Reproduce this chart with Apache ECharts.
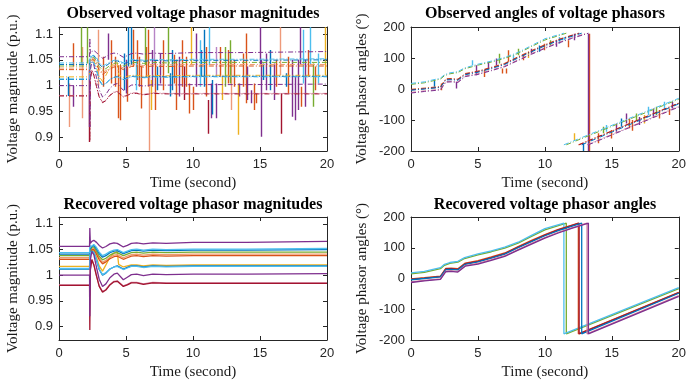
<!DOCTYPE html>
<html>
<head>
<meta charset="utf-8">
<script src="https://cdn.jsdelivr.net/npm/echarts@6/dist/echarts.min.js"></script>
<style>html,body{margin:0;padding:0;background:#fff}#c{width:689px;height:381px}</style>
</head>
<body>
<div id="c"></div>
<script>
// ---------- DATA ----------
const titles = ['Observed voltage phasor magnitudes', 'Observed angles of voltage phasors',
                'Recovered voltage phasor magnitudes', 'Recovered voltage phasor angles'];
const xTicks = [0, 5, 10, 15, 20];
const magTicks = [0.9, 0.95, 1, 1.05, 1.1];
const angTicks = [-200, -100, 0, 100, 200];

// time grid for magnitudes (s)
const TM = [0, 2.28, 2.3, 2.34, 2.45, 2.6, 2.8, 3.0, 3.25, 3.5, 3.8, 4.1, 4.35, 4.45, 4.8, 5.1, 5.4, 5.8, 6.3, 7.0, 8.0, 10, 14, 20];
const magPurpleHigh = [1.056,1.056,1.092,1.062,1.066,1.068,1.064,1.058,1.053,1.056,1.061,1.063,1.062,1.060,1.055,1.058,1.062,1.063,1.061,1.063,1.062,1.064,1.064,1.066];
const magLightBlueHigh = [1.044,1.044,1.060,1.055,1.058,1.060,1.054,1.045,1.038,1.041,1.046,1.049,1.050,1.048,1.044,1.047,1.050,1.051,1.049,1.051,1.050,1.051,1.051,1.052];
const magBlueHigh = [1.041,1.041,1.050,1.052,1.056,1.058,1.051,1.042,1.035,1.038,1.044,1.047,1.048,1.046,1.042,1.045,1.048,1.049,1.047,1.049,1.048,1.049,1.049,1.050];
const magGreen = [1.038,1.038,1.048,1.050,1.054,1.055,1.047,1.037,1.030,1.033,1.039,1.043,1.044,1.042,1.038,1.041,1.044,1.045,1.043,1.045,1.044,1.045,1.045,1.045];
const magPaleOrange = [1.034,1.034,1.046,1.049,1.052,1.052,1.044,1.033,1.025,1.029,1.035,1.039,1.040,1.038,1.034,1.037,1.040,1.041,1.039,1.041,1.040,1.041,1.041,1.041];
const magOrange = [1.031,1.031,1.045,1.048,1.050,1.050,1.041,1.030,1.022,1.026,1.032,1.036,1.037,1.035,1.031,1.034,1.037,1.038,1.036,1.038,1.037,1.038,1.038,1.038];
const magYellow = [1.017,1.017,1.040,1.050,1.052,1.048,1.035,1.018,1.008,1.020,1.035,1.043,1.046,1.021,1.016,1.018,1.020,1.020,1.018,1.020,1.019,1.020,1.020,1.020];
const magLightBlueLow = [1.013,1.013,1.035,1.045,1.048,1.045,1.030,1.012,1.001,1.005,1.012,1.016,1.017,1.015,1.011,1.014,1.017,1.017,1.015,1.017,1.016,1.017,1.017,1.017];
const magBlueLow = [1.012,1.012,1.030,1.043,1.047,1.044,1.029,1.011,1.000,1.004,1.012,1.016,1.018,1.016,1.012,1.015,1.018,1.018,1.016,1.018,1.017,1.018,1.018,1.018];
const magPurpleLow = [1.000,1.000,0.920,1.030,1.046,1.040,1.015,0.992,0.978,0.983,0.995,1.002,1.004,1.001,0.991,0.996,1.001,1.002,0.999,1.002,1.001,1.002,1.002,1.003];
const magRed = [0.980,0.980,0.893,1.010,1.030,1.020,0.998,0.978,0.967,0.971,0.981,0.987,0.988,0.986,0.978,0.981,0.985,0.985,0.982,0.985,0.984,0.984,0.984,0.984];
const magPink = [0.981,0.981,0.960,1.012,1.031,1.021,0.999,0.979,0.968,0.972,0.982,0.988,0.989,0.987,0.979,0.982,0.986,0.986,0.983,0.986,0.985,0.985,0.985,0.985];

// outliers in observed magnitudes: [time, from, to]
const spkMagOrange = [[1.07,1.082,1.037],[3.31,1.056,0.998],[3.93,1.088,1.004],[4.18,1.056,0.998],[4.43,1.04,0.937],[4.60,1.04,0.933],[5.12,1.037,0.969],[5.55,1.108,1.037],[5.85,1.088,1.011],[6.0,1.056,0.998],[6.17,1.037,0.956],[6.54,1.075,1.017],[6.69,1.108,0.998],[7.16,1.05,0.953],[7.79,1.088,0.991],[8.61,1.06,1.004],[8.78,1.05,0.953],[9.23,1.088,0.998],[9.53,1.056,0.998],[9.73,1.004,0.946],[10.02,0.998,0.953],[11.02,1.075,0.979],[12.06,1.075,1.017],[12.64,1.069,1.004],[13.06,1.050,0.998],[13.76,1.062,0.998],[13.96,1.101,0.966],[14.55,1.004,0.953],[14.70,0.985,0.966],[16.24,1.05,0.998],[17.11,1.056,0.985],[18.11,0.998,0.959],[18.61,1.069,1.017],[19.10,1.037,0.991]];
const spkMagSalmon = [[0.75,1.004,0.920],[1.77,1.075,0.937],[2.94,1.108,1.0],[6.77,1.02,0.874],[12.89,1.05,0.953],[16.49,1.113,1.02]];
const spkMagRed = [[2.26,1.05,0.891],[9.35,1.037,0.972],[11.14,0.972,0.907],[16.62,0.985,0.907]];
const spkMagPurple = [[1.10,1.0,0.959],[2.24,1.03,0.920],[3.68,1.101,1.05],[5.0,1.050,0.985],[6.99,1.069,0.998],[7.54,1.062,1.004],[8.96,1.056,0.979],[10.27,1.101,0.998],[11.34,1.004,0.937],[11.77,1.004,0.937],[13.46,1.004,0.979],[14.05,1.037,0.972],[14.38,0.991,0.966],[15.0,1.113,1.04],[15.12,1.050,0.901],[15.50,1.062,0.991],[16.04,1.043,0.972],[17.44,1.050,0.940],[17.61,1.017,0.933],[17.86,1.050,0.953],[17.99,1.113,1.04],[18.41,1.050,0.959]];
const spkMagLightPurple = [[7.09,1.113,1.04],[11.72,1.075,1.017]];
const spkMagBlue = [[0.70,1.017,0.98],[4.85,1.062,0.991],[5.17,1.113,1.037],[5.37,1.113,1.04],[7.34,1.037,0.991],[8.33,1.024,0.979],[8.48,1.069,0.991],[10.65,1.069,1.017],[10.82,1.108,0.998],[11.47,1.011,0.944],[15.25,1.043,1.011],[15.75,1.069,0.991],[16.94,1.024,0.998]];
const spkMagLightBlue = [[5.75,1.050,0.991],[10.52,1.088,0.998],[11.22,1.113,1.04],[18.23,1.108,1.004],[18.78,1.113,1.04],[19.35,1.062,1.004]];
const spkMagGreen = [[1.64,1.113,1.043],[2.11,1.113,1.043],[6.47,1.113,1.04],[8.16,1.113,1.024],[12.39,1.075,0.998],[12.76,1.088,1.004],[18.98,1.043,0.959]];
const spkMagYellow = [[6.87,1.011,0.953],[9.90,1.113,1.04],[12.21,1.017,0.972],[13.38,1.004,0.905],[19.85,1.113,1.02]];

// angles (degrees) as [time, angle]
const angLightBlue = [[0,18],[1,23],[2.2,35],[2.5,46],[2.9,52],[3.5,56],[4.0,68],[5,80],[6,90],[7,102],[8,118],[9,140],[10,162],[11.42,180],[11.42,-180],[20,-30]];
const angGreen = [[0,15],[1,20],[2.2,32],[2.5,43],[2.9,49],[3.5,53],[4.0,65],[5,77],[6,87],[7,99],[8,115],[9,137],[10,158],[11.6,180],[11.6,-180],[20,-33]];
const angOrange = [[0,-1],[1,3],[2.2,8],[2.6,33],[3.0,34],[3.5,32],[4.05,50],[5,58],[6,70],[7,83],[8,104],[9,124],[10,143],[11,160],[12.5,180],[12.5,-180],[20,-45]];
const angRed = [[0,-3],[1,1],[2.2,6],[2.6,31],[3.0,32],[3.5,30],[4.05,48],[5,56],[6,68],[7,81],[8,102],[9,122],[10,141],[11,158],[12.56,180],[12.56,-180],[20,-46]];
const angBlue = [[0,-4],[1,0],[2.2,5],[2.6,29],[3.0,30],[3.5,28],[4.05,46],[5,54],[6,66],[7,79],[8,100],[9,120],[10,139],[11,156],[12.75,180],[12.75,-180],[20,-48]];
const angPink = [[0,-11],[1,-6],[2.2,-1],[2.6,24],[3.0,25],[3.5,23],[4.05,42],[5,49],[6,61],[7,74],[8,94],[9,114],[10,133],[11,150],[12,165],[13.15,180],[13.15,-180],[20,-56]];
const angPurple = [[0,-13],[1,-8],[2.2,-3],[2.6,22],[3.0,23],[3.5,21],[4.05,40],[5,47],[6,59],[7,72],[8,92],[9,112],[10,131],[11,148],[12,163],[13.25,180],[13.25,-180],[20,-58]];

// outliers in observed angles: [time, from, to]
const spkAngBlue = [[1.72,28,7],[9.60,140,120],[12.86,-175,-200],[15.70,-122,-95]];
const spkAngOrange = [[2.26,18,-4],[5.50,61,39],[6.79,66,50],[7.11,66,50],[7.24,125,88],[8.36,109,93],[9.98,146,125],[11.77,157,135],[13.33,178,-200],[13.96,-143,-175],[14.95,-132,-160],[16.32,-95,-127],[16.49,-100,-135],[18.56,-68,-95],[19.30,-63,-84]];
const spkAngPurple = [[3.38,23,2],[4.88,77,44],[5.75,87,66],[6.37,98,77],[8.98,130,114],[10.85,157,136],[12.21,178,157],[13.21,178,-200],[15.32,-111,-138],[16.07,-79,-111],[17.06,-90,-116],[18.06,-63,-90],[19.55,-41,-63]];
const spkAngLightBlue = [[4.58,93,77],[7.61,109,93],[11.09,168,146],[11.47,168,157],[14.58,-116,-138],[17.69,-57,-84],[18.93,-41,-68]];
const spkAngGreen = [[6.62,114,82],[7.99,130,109],[10.42,157,141],[14.33,-122,-143],[16.82,-79,-100],[18.31,-57,-84]];
const spkAngYellow = [[8.78,120,100],[12.16,-165,-143],[17.44,-84,-111]];

// ---------- STYLE / BUILD ----------
const C = {purple:'#7E2F8E', lightBlue:'#4DBEEE', blue:'#0072BD', green:'#77AC30', orange:'#D95319',
           yellow:'#EDB120', red:'#A2142F', pink:'#D27F9C', paleOrange:'#EE9B6E', salmon:'#EE9A7A', lightPurple:'#B784C6'};
const magSeries = [
  [magYellow, C.yellow],[magPaleOrange, C.paleOrange],[magOrange, C.orange],[magGreen, C.green],
  [magBlueHigh, C.blue],[magLightBlueHigh, C.lightBlue],[magPurpleHigh, C.purple],
  [magBlueLow, C.blue],[magLightBlueLow, C.lightBlue],[magPink, C.pink],[magRed, C.red],[magPurpleLow, C.purple]
];
const angSeries = [
  [angGreen, C.green],[angLightBlue, C.lightBlue],[angOrange, C.orange],[angRed, C.red],
  [angBlue, C.blue],[angPink, C.pink],[angPurple, C.purple]
];
const magSpikes = [[spkMagOrange,C.orange],[spkMagSalmon,C.salmon],[spkMagRed,C.red],[spkMagPurple,C.purple],
  [spkMagLightPurple,C.lightPurple],[spkMagBlue,C.blue],[spkMagLightBlue,C.lightBlue],[spkMagGreen,C.green],[spkMagYellow,C.yellow]];
const angSpikes = [[spkAngBlue,C.blue],[spkAngOrange,C.orange],[spkAngPurple,C.purple],[spkAngLightBlue,C.lightBlue],
  [spkAngGreen,C.green],[spkAngYellow,C.yellow]];

const AX = '#262626';
const grids = [
  {left:59, top:27, width:268, height:124},
  {left:411, top:27, width:268, height:124},
  {left:59, top:217, width:268, height:124},
  {left:411, top:217, width:268, height:124}
];
const fmt = v => String(+(+v).toFixed(2));
const xAxes = [], yAxes = [];
grids.forEach((g, i) => {
  const base = {gridIndex:i, type:'value', min:0, max:20, interval:5, splitLine:{show:false},
    axisLine:{onZero:false, lineStyle:{color:AX, width:1}},
    axisTick:{inside:true, length:4, lineStyle:{color:AX, width:1}}};
  xAxes.push(Object.assign({}, base, {position:'bottom',
    axisLabel:{color:AX, fontFamily:'Liberation Sans', fontSize:13, margin:7},
    name:'Time (second)', nameLocation:'middle', nameGap:25,
    nameTextStyle:{fontFamily:'Liberation Serif', fontSize:15, color:'#1a1a1a'}}));
  xAxes.push(Object.assign({}, base, {position:'top', axisLabel:{show:false}}));
  const isMag = (i % 2 === 0);
  const yb = isMag ?
    {gridIndex:i, type:'value', min:0.8735, max:1.1135, splitLine:{show:false},
     axisLine:{onZero:false, lineStyle:{color:AX, width:1}},
     axisTick:{inside:true, length:4, lineStyle:{color:AX}, customValues:magTicks}} :
    {gridIndex:i, type:'value', min:-200, max:200, interval:100, splitLine:{show:false},
     axisLine:{onZero:false, lineStyle:{color:AX, width:1}},
     axisTick:{inside:true, length:4, lineStyle:{color:AX}}};
  const lab = {color:AX, fontFamily:'Liberation Sans', fontSize:13, margin:6, formatter:fmt};
  if (isMag) lab.customValues = magTicks;
  yAxes.push(Object.assign({}, yb, {position:'left', axisLabel:lab,
    name: isMag ? 'Voltage magnitude (p.u.)' : 'Voltage phasor angles (°)',
    nameLocation:'middle', nameGap: isMag ? 38 : 41,
    nameTextStyle:{fontFamily:'Liberation Serif', fontSize:15, color:'#1a1a1a'}}));
  yAxes.push(Object.assign({}, yb, {position:'right', axisLabel:{show:false}}));
});

const series = [];
function pushLine(data, gi, col, dashed) {
  series.push({type:'line', xAxisIndex:2*gi, yAxisIndex:2*gi, data, showSymbol:false, symbol:'none',
    clip:true, silent:true, animation:false,
    lineStyle:{color:col, width: dashed ? 1 : 1.3, type: dashed ? [5,2,1,2] : 'solid'}});
}
function addLines(list, gi, dashed) {
  list.forEach(([vals, col]) => {
    const data = Array.isArray(vals[0]) ? vals : TM.map((t, k) => [t, vals[k]]);
    if (dashed && Array.isArray(vals[0])) {
      // observed angles: no visible wrap segment, split where time repeats
      let cut = data.findIndex((p, k) => k > 0 && p[0] === data[k - 1][0]);
      if (cut > 0) { pushLine(data.slice(0, cut), gi, col, true); pushLine(data.slice(cut), gi, col, true); return; }
    }
    pushLine(data, gi, col, dashed);
  });
}
function addSpikes(list, gi) {
  list.forEach(([arr, col]) => {
    series.push({type:'lines', coordinateSystem:'cartesian2d', xAxisIndex:2*gi, yAxisIndex:2*gi,
      silent:true, animation:false, clip:true, z:3,
      lineStyle:{color:col, width:1.4, opacity:1},
      data: arr.map(s => ({coords:[[s[0], s[1]], [s[0], s[2]]]}))});
  });
}
addLines(magSeries, 0, true);
addSpikes(magSpikes, 0);
addLines(angSeries, 1, true);
addSpikes(angSpikes, 1);
addLines(magSeries, 2, false);
addLines(angSeries, 3, false);

const titleCfg = [[193, 6], [545, 6], [193, 197], [545, 197]].map((p, i) => ({
  text: titles[i], left: p[0], top: p[1], textAlign: 'center', padding: 0,
  textStyle: {fontFamily:'Liberation Serif', fontWeight:'bold', fontSize:16, color:'#000'}
}));

const chart = echarts.init(document.getElementById('c'), null, {renderer:'canvas'});
chart.setOption({
  animation:false, backgroundColor:'#fff',
  title: titleCfg, grid: grids, xAxis: xAxes, yAxis: yAxes, series
});
</script>
</body>
</html>
